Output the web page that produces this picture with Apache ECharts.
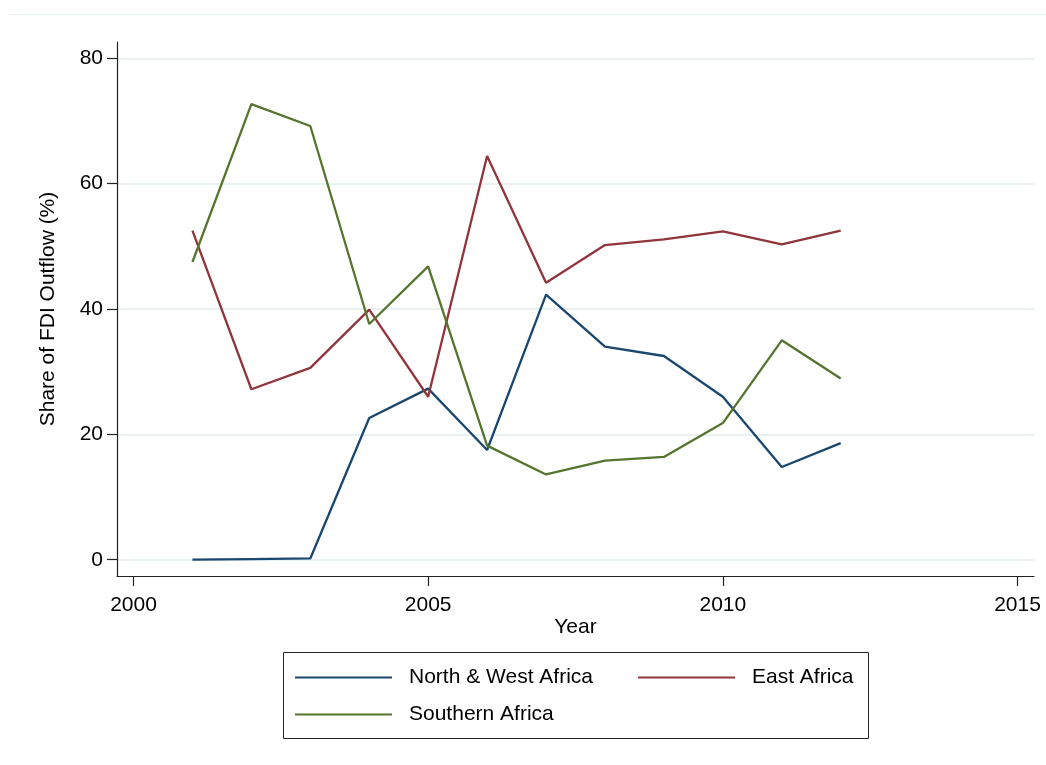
<!DOCTYPE html>
<html>
<head>
<meta charset="utf-8">
<script src="https://cdn.jsdelivr.net/npm/echarts@6/dist/echarts.min.js"></script>
<style>
html,body{margin:0;padding:0;background:#fff;}
#chart{width:1046px;height:765px;}
</style>
</head>
<body>
<div id="chart"></div>
<script>
const years = [2001, 2002, 2003, 2004, 2005, 2006, 2007, 2008, 2009, 2010, 2011, 2012];
const northWest = [0.0, 0.1, 0.2, 22.6, 27.3, 17.5, 42.3, 34.0, 32.5, 26.0, 14.8, 18.6];
const eastAfrica = [52.5, 27.2, 30.6, 39.9, 26.0, 64.4, 44.2, 50.2, 51.1, 52.4, 50.3, 52.5];
const southern = [47.5, 72.7, 69.2, 37.6, 46.8, 18.2, 13.6, 15.8, 16.4, 21.8, 35.0, 28.9];
const xTicks = [2000, 2005, 2010, 2015];
const yTicks = [0, 20, 40, 60, 80];
const seriesNames = ['North & West Africa', 'East Africa', 'Southern Africa'];

const FONT = "'Liberation Sans', Arial, sans-serif";
const FS = 21;
const pairs = arr => years.map((y, i) => [y, arr[i]]);

const chart = echarts.init(document.getElementById('chart'), null, {renderer: 'canvas'});

const legendBase = {
  orient: 'horizontal',
  icon: 'rect',
  itemWidth: 97,
  itemHeight: 2,
  padding: 0,
  selectedMode: false,
  textStyle: {fontFamily: FONT, fontSize: FS, color: '#000', padding: [0, 0, 0, 12]}
};

chart.setOption({
  animation: false,
  backgroundColor: '#fff',
  grid: {left: 117, right: 12, top: 42, bottom: 189, containLabel: false},
  xAxis: {
    type: 'value',
    min: 1999.72,
    max: 2015.28,
    name: 'Year',
    nameLocation: 'middle',
    nameGap: 41,
    nameMoveOverlap: false,
    nameTextStyle: {fontFamily: FONT, fontSize: FS, color: '#000'},
    axisLine: {show: true, onZero: false, lineStyle: {color: '#222', width: 1.2}},
    axisTick: {show: true, length: 10, lineStyle: {color: '#222', width: 1.2}, customValues: xTicks},
    axisLabel: {margin: 19, fontFamily: FONT, fontSize: FS, color: '#000', customValues: xTicks, formatter: v => String(v)},
    splitLine: {show: false}
  },
  yAxis: {
    type: 'value',
    min: -2.6,
    max: 82.6,
    name: 'Share of FDI Outflow (%)',
    nameLocation: 'middle',
    nameGap: 58,
    nameMoveOverlap: false,
    nameTextStyle: {fontFamily: FONT, fontSize: FS, color: '#000'},
    axisLine: {show: true, onZero: false, lineStyle: {color: '#222', width: 1.2}},
    axisTick: {show: true, length: 10, lineStyle: {color: '#222', width: 1.2}, customValues: yTicks},
    axisLabel: {margin: 14, fontFamily: FONT, fontSize: FS, color: '#000', customValues: yTicks, formatter: v => String(v)},
    splitLine: {show: true, lineStyle: {color: '#eaf1f3', width: 2}}
  },
  legend: [
    Object.assign({}, legendBase, {data: [seriesNames[0]], left: 295, top: 667}),
    Object.assign({}, legendBase, {data: [seriesNames[1]], left: 638, top: 667}),
    Object.assign({}, legendBase, {data: [seriesNames[2]], left: 295, top: 704})
  ],
  graphic: [
    {type: 'line', shape: {x1: 10, y1: 14.5, x2: 1046, y2: 14.5}, style: {stroke: '#eaf1f3', lineWidth: 1}, silent: true},
    {type: 'rect', shape: {x: 283.5, y: 652.5, width: 585, height: 86}, style: {fill: 'none', stroke: '#222', lineWidth: 1}, silent: true}
  ],
  series: [
    {name: seriesNames[0], type: 'line', data: pairs(northWest), symbol: 'none', lineStyle: {color: '#1a476f', width: 2.3}, itemStyle: {color: '#1a476f'}},
    {name: seriesNames[1], type: 'line', data: pairs(eastAfrica), symbol: 'none', lineStyle: {color: '#90353b', width: 2.3}, itemStyle: {color: '#90353b'}},
    {name: seriesNames[2], type: 'line', data: pairs(southern), symbol: 'none', lineStyle: {color: '#55752f', width: 2.3}, itemStyle: {color: '#55752f'}}
  ]
});
</script>
</body>
</html>
